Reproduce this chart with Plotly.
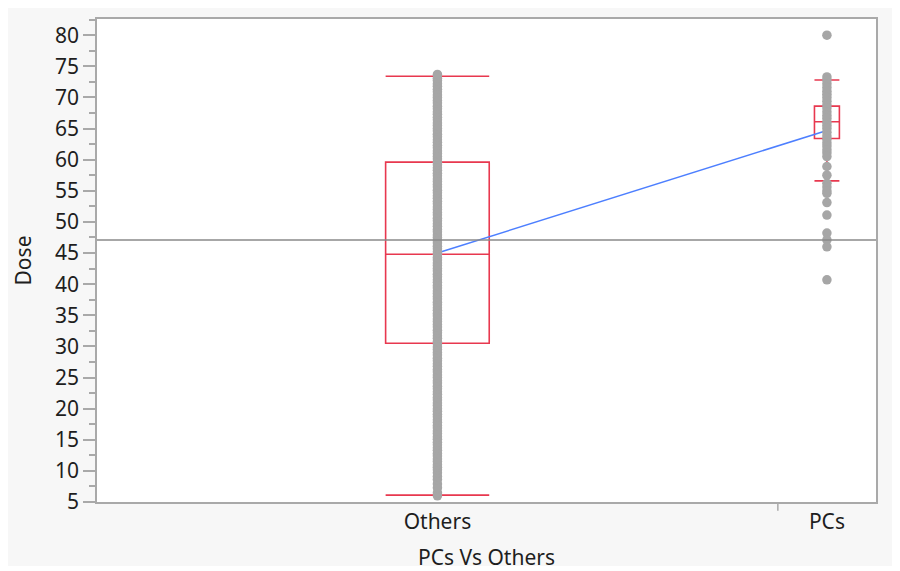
import plotly.graph_objects as go

# groups and their positions on the x axis (JMP widths groups by sample size)
groups = ["Others", "PCs"]
group_x = [0.437, 0.937]
group_sep = 0.874

# raw dose values
others_dose = [
    6.0, 6.5, 7.3, 7.9, 8.6, 9.1, 9.7, 10.2, 10.6, 11.0, 11.5, 11.9, 12.4, 12.8,
    13.3, 13.7, 14.2, 14.6, 15.1, 15.5, 16.0, 16.4, 16.9, 17.3, 17.8, 18.2, 18.7,
    19.1, 19.6, 20.0, 20.5, 20.9, 21.4, 21.8, 22.3, 22.7, 23.2, 23.6, 24.1, 24.5,
    25.0, 25.4, 25.9, 26.3, 26.8, 27.2, 27.7, 28.1, 28.6, 29.0, 29.5, 29.9, 30.4,
    30.8, 31.3, 31.7, 32.2, 32.6, 33.1, 33.5, 34.0, 34.4, 34.9, 35.3, 35.8, 36.2,
    36.7, 37.1, 37.6, 38.0, 38.5, 38.9, 39.4, 39.8, 40.3, 40.7, 41.2, 41.6, 42.1,
    42.5, 43.0, 43.4, 43.9, 44.3, 44.8, 45.2, 45.7, 46.1, 46.6, 47.0, 47.5, 47.9,
    48.4, 48.8, 49.3, 49.7, 50.2, 50.6, 51.1, 51.5, 52.0, 52.4, 52.9, 53.3, 53.8,
    54.2, 54.7, 55.1, 55.6, 56.0, 56.5, 56.9, 57.4, 57.8, 58.3, 58.7, 59.2, 59.6,
    60.1, 60.5, 61.0, 61.4, 61.9, 62.3, 62.8, 63.2, 63.7, 64.1, 64.6, 65.0, 65.5,
    65.9, 66.4, 66.8, 67.3, 67.7, 68.2, 68.6, 69.1, 69.5, 70.0, 70.4, 70.9, 71.3,
    71.8, 72.2, 72.7, 73.1, 73.7,
]
pcs_dose = [
    80.0, 73.3, 72.8, 72.2, 71.6, 71.0, 70.5, 70.0, 69.4, 68.8, 68.3, 67.7, 67.1,
    66.6, 66.0, 65.5, 65.0, 64.4, 63.8, 63.3, 62.7, 62.2, 61.6, 61.1, 60.5, 58.9,
    57.5, 56.2, 55.6, 55.0, 54.6, 53.1, 51.1, 48.2, 47.1, 46.0, 40.7,
]

# box plot summaries
box_q1 = [30.5, 63.4]
box_median = [44.8, 66.1]
box_q3 = [59.6, 68.6]
box_low = [6.1, 56.6]
box_high = [73.4, 72.8]
box_width = [0.133, 0.032]

# group means and grand mean
group_means = [45.0, 64.7]
grand_mean = 47.1

RED = "#e8384f"
DOT = "#a6a6a6"
AXIS = "#a9a9a9"
TXT = "#1e1e1e"
FONT = "Noto Sans"

fig = go.Figure()

# line joining the group means
fig.add_trace(go.Scatter(
    x=group_x, y=group_means, mode="lines",
    line=dict(color="#4d7fff", width=1.5), hoverinfo="skip", showlegend=False,
))

# data points
fig.add_trace(go.Scatter(
    x=[group_x[0]] * len(others_dose), y=others_dose, mode="markers",
    marker=dict(color=DOT, size=9.5), showlegend=False,
))
fig.add_trace(go.Scatter(
    x=[group_x[1]] * len(pcs_dose), y=pcs_dose, mode="markers",
    marker=dict(color=DOT, size=9.5), showlegend=False,
))

# outlier boxes
for i in range(len(groups)):
    fig.add_trace(go.Box(
        x=[group_x[i]], q1=[box_q1[i]], median=[box_median[i]], q3=[box_q3[i]],
        lowerfence=[box_low[i]], upperfence=[box_high[i]],
        width=box_width[i], whiskerwidth=1, boxpoints=False,
        line=dict(color=RED, width=1.6), fillcolor="rgba(0,0,0,0)",
        showlegend=False,
    ))

# grand mean line
fig.add_shape(type="line", xref="paper", x0=0, x1=1, yref="y",
              y0=grand_mean, y1=grand_mean, line=dict(color="#8a8a8a", width=1.5))
# tick separating the groups
fig.add_shape(type="line", xref="x", x0=group_sep, x1=group_sep, yref="paper",
              y0=0, y1=-0.018, line=dict(color=AXIS, width=1.5))
# white border on the right and bottom of the grey panel
fig.add_shape(type="rect", xref="paper", yref="paper",
              x0=1.0218, x1=1.06, y0=-0.2, y1=1.1,
              fillcolor="white", line=dict(width=0), layer="below")
fig.add_shape(type="rect", xref="paper", yref="paper",
              x0=-0.2, x1=1.1, y0=-0.2, y1=-0.1325,
              fillcolor="white", line=dict(width=0), layer="below")

fig.update_xaxes(
    range=[0, 1], tickvals=group_x, ticktext=groups, ticks="",
    showline=True, linecolor=AXIS, linewidth=1.5, mirror=True, showgrid=False,
    zeroline=False, tickfont=dict(size=21, color=TXT), automargin=False,
    title=dict(text="PCs Vs Others", font=dict(size=21, color=TXT), standoff=18),
)
fig.update_yaxes(
    range=[5, 82.6], tick0=5, dtick=5, ticks="outside", ticklen=12, tickwidth=1.5,
    tickcolor=AXIS,
    minor=dict(dtick=2.5, ticks="outside", ticklen=6, tickcolor=AXIS, tickwidth=1.5),
    showline=True, linecolor=AXIS, linewidth=1.5, mirror=True, showgrid=False,
    zeroline=False, tickfont=dict(size=21, color=TXT), automargin=False,
    title=dict(text="Dose", font=dict(size=21, color=TXT), standoff=18),
)

# the page body adds 8px around the figure
fig.update_layout(
    width=892, height=563,
    margin=dict(l=89, r=24, t=11, b=69),
    paper_bgcolor="#f7f7f7", plot_bgcolor="white",
    font=dict(family=FONT),
    showlegend=False,
)

fig.write_html("out.html")
